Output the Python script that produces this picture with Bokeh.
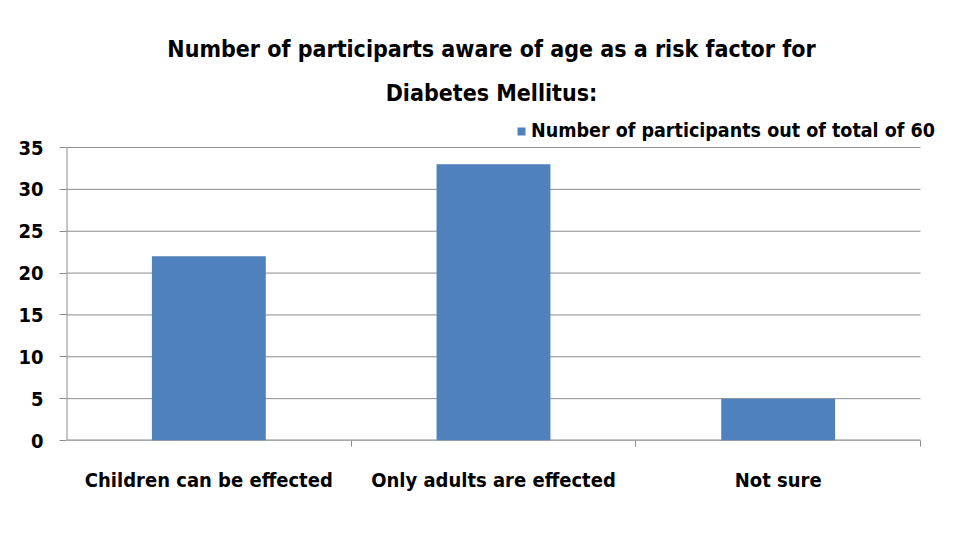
from bokeh.plotting import figure
from bokeh.models import (Range1d, LinearAxis, FixedTicker, Label,
                          Legend, LegendItem, ColumnDataSource)
from bokeh.embed import file_html
from bokeh.resources import INLINE

categories = ["Children can be effected", "Only adults are effected", "Not sure"]
participants = [22, 33, 5]
series_name = "Number of participants out of total of 60"
title_lines = ["Number of participarts aware of age as a risk factor for", "Diabetes Mellitus:"]
y_ticks = [0, 5, 10, 15, 20, 25, 30, 35]

FONT = "'DejaVu Sans Condensed', 'Liberation Sans', sans-serif"
GRID = "#8c8c8c"
BAR = "#4F81BD"

n = len(categories)
centers = [i + 0.5 for i in range(n)]
bounds = [i + 1 for i in range(n)]
y_max = y_ticks[-1]

# frame: value 0 at 440px, value 35 at 147px, frame top at 0px;
# plot area spans 66..920px, frame extended to 950px so the legend is not clipped
y_top = y_max * 440 / (440 - 147)
x_end = n * (950 - 66) / (920 - 66)

p = figure(width=960, height=528, output_backend="svg", toolbar_location=None,
           x_range=Range1d(0, x_end), y_range=Range1d(0, y_top),
           x_axis_type=None, y_axis_type=None,
           min_border_left=66, min_border_right=10, min_border_top=0, min_border_bottom=88)
p.outline_line_color = None
p.background_fill_color = "white"
p.border_fill_color = "white"
p.xgrid.visible = False
p.ygrid.visible = False

# gridlines and axis lines limited to the plot area
p.segment(x0=[0] * len(y_ticks), y0=y_ticks, x1=[n] * len(y_ticks), y1=y_ticks,
          line_color=GRID, line_width=1)
p.segment(x0=[0], y0=[0], x1=[0], y1=[y_max], line_color=GRID, line_width=2)
p.segment(x0=[0], y0=[0], x1=[n], y1=[0], line_color=GRID, line_width=2)

# y axis
yax = LinearAxis(ticker=FixedTicker(ticks=y_ticks))
yax.axis_line_color = None
yax.major_tick_line_color = GRID
yax.major_tick_out = 7
yax.major_tick_in = 0
yax.minor_tick_line_color = None
yax.major_label_text_font = FONT
yax.major_label_text_font_style = "bold"
yax.major_label_text_font_size = "20px"
yax.major_label_text_color = "black"
yax.major_label_standoff = 16
p.add_layout(yax, "left")

# x axis: boundary ticks
bax = LinearAxis(ticker=FixedTicker(ticks=bounds),
                 major_label_overrides={b: "" for b in bounds})
bax.axis_line_color = None
bax.major_tick_line_color = GRID
bax.major_tick_out = 6
bax.major_tick_in = 0
bax.minor_tick_line_color = None
bax.major_label_standoff = 0
p.add_layout(bax, "below")

# x axis: category labels
cax = LinearAxis(ticker=FixedTicker(ticks=centers),
                 major_label_overrides={c: lab for c, lab in zip(centers, categories)})
cax.axis_line_color = None
cax.major_tick_line_color = None
cax.minor_tick_line_color = None
cax.major_label_text_font = FONT
cax.major_label_text_font_style = "bold"
cax.major_label_text_font_size = "20px"
cax.major_label_text_color = "black"
cax.major_label_standoff = 15
p.add_layout(cax, "below")

src = ColumnDataSource(dict(x=centers, val=participants, cat=categories))
r = p.vbar(x="x", top="val", width=0.4, source=src, fill_color=BAR, line_color=None)

legend = Legend(items=[LegendItem(label=series_name, renderers=[r])], location=(450, 298),
                orientation="horizontal")
legend.label_text_font = FONT
legend.label_text_font_style = "bold"
legend.label_text_font_size = "19.5px"
legend.label_text_color = "black"
legend.glyph_width = 10
legend.glyph_height = 10
legend.label_standoff = 5
legend.padding = 0
legend.margin = 0
legend.border_line_color = None
legend.background_fill_alpha = 0
p.add_layout(legend, "center")

for txt, yy in zip(title_lines, [392, 348]):
    p.add_layout(Label(x=425, y=yy, x_units="screen", y_units="screen", text=txt,
                       text_align="center", text_baseline="middle",
                       text_font=FONT, text_font_style="bold", text_font_size="23px",
                       text_color="black"))

open("out.html", "w").write(file_html(p, INLINE))
